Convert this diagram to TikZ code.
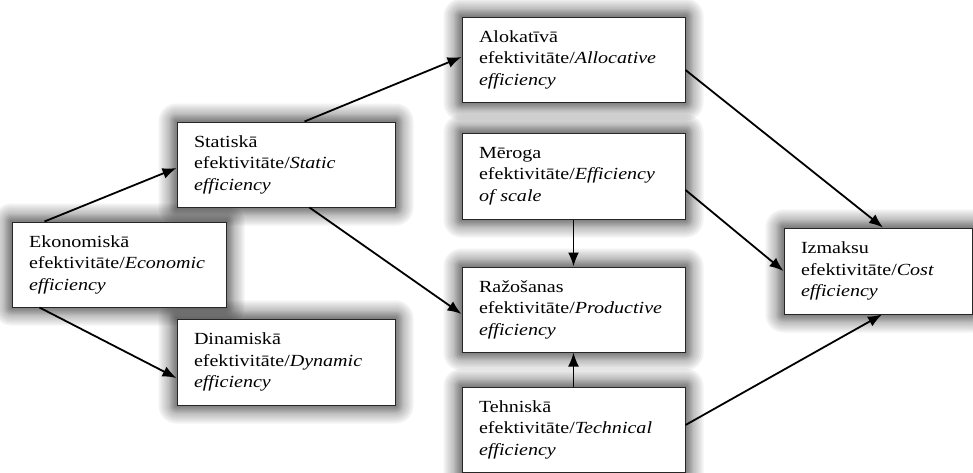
\documentclass[tikz,border=0pt]{standalone}
\usepackage{fontspec}
\setmainfont{Liberation Serif}[FakeStretch=1.18]
\usetikzlibrary{arrows.meta,backgrounds}

\begin{document}
\begin{tikzpicture}[x=1pt,y=-1pt,
  box/.style={draw=black!85, line width=1pt, fill=white, align=left,
    inner xsep=17pt, inner ysep=0pt, minimum height=85pt,
    font=\fontsize{17}{21.5}\selectfont},
  link/.style={line width=1.8pt, -{Latex[length=14pt,width=11pt]}}]
\useasboundingbox (0,0) rectangle (973,472);

% boxes
\node[box, text width=180pt] (eco) at (119,264.5)
  {Ekonomiskā\\efektivitāte/\textit{Economic}\\\textit{efficiency}};
\node[box, text width=184pt] (sta) at (286,164.5)
  {Statiskā\\efektivitāte/\textit{Static}\\\textit{efficiency}};
\node[box, text width=184pt, minimum height=86pt] (dyn) at (286,362)
  {Dinamiskā\\efektivitāte/\textit{Dynamic}\\\textit{efficiency}};
\node[box, text width=189pt] (alo) at (573.5,59.5)
  {Alokatīvā\\efektivitāte/\textit{Allocative}\\\textit{efficiency}};
\node[box, text width=189pt, minimum height=86pt] (mer) at (573.5,176)
  {Mēroga\\efektivitāte/\textit{Efficiency}\\\textit{of scale}};
\node[box, text width=189pt] (raz) at (573.5,309.5)
  {Ražošanas\\efektivitāte/\textit{Productive}\\\textit{efficiency}};
\node[box, text width=189pt] (teh) at (573.5,429.5)
  {Tehniskā\\efektivitāte/\textit{Technical}\\\textit{efficiency}};
\node[box, text width=154pt, minimum height=86pt] (izm) at (878,271)
  {Izmaksu\\efektivitāte/\textit{Cost}\\\textit{efficiency}};

% soft glow behind every box
\begin{scope}[on background layer]
\foreach \n in {eco,sta,dyn,alo,mer,raz,teh,izm}
  \foreach \r in {1,2,3,4,5,6,7,8,10,12,14,16,18}
    \fill[black, opacity=0.05, rounded corners=\r pt]
      ([shift={(-\r pt,\r pt)}]\n.north west) rectangle
      ([shift={(\r pt,-\r pt)}]\n.south east);
\end{scope}

% connectors
\draw[link] ([xshift=33pt]eco.north west) -- ([yshift=-3.5pt]sta.west);
\draw[link] ([xshift=28pt]eco.south west) -- ([yshift=-16pt]dyn.west);
\draw[link] ([xshift=128pt]sta.north west) -- ([yshift=2.5pt]alo.west);
\draw[link] ([xshift=133pt]sta.south west) -- ([yshift=-4.5pt]raz.west);
\draw[link] (mer.south) -- (raz.north);
\draw[link] (teh.north) -- (raz.south);
\draw[link] ([yshift=-10.5pt]alo.east) -- ([xshift=5pt]izm.north);
\draw[link] ([yshift=-14pt]mer.east) -- (izm.west);
\draw[link] ([yshift=4.5pt]teh.east) -- ([xshift=4pt]izm.south);
\end{tikzpicture}
\end{document}
